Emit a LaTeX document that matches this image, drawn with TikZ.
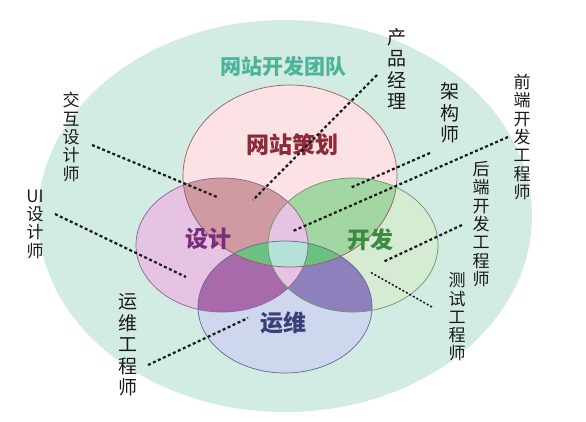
\documentclass[tikz,border=0pt]{standalone}
\usepackage{fontspec}
\newfontfamily\cjk{Noto Sans CJK SC}
\definecolor{bgc}{HTML}{D3ECE3}
\definecolor{cP}{HTML}{FCE1E5}
\definecolor{cD}{HTML}{E6C3E3}
\definecolor{cK}{HTML}{D5ECD3}
\definecolor{cY}{HTML}{CFD7EE}
\definecolor{cPD}{HTML}{D09AA2}
\definecolor{cPK}{HTML}{A2D6A3}
\definecolor{cDY}{HTML}{A96AAB}
\definecolor{cKY}{HTML}{8E80BD}
\definecolor{cDK}{HTML}{E6C3E3}
\definecolor{cPY}{HTML}{6CC080}
\definecolor{cAll}{HTML}{B5E2D8}
\definecolor{sP}{HTML}{9A5A62}
\definecolor{sD}{HTML}{86668C}
\definecolor{sK}{HTML}{68966A}
\definecolor{sY}{HTML}{5E6A92}
\definecolor{tTeam}{HTML}{4DB399}
\definecolor{tP}{HTML}{8B2A3A}
\definecolor{tD}{HTML}{7A2D7A}
\definecolor{tK}{HTML}{3E8A45}
\definecolor{tY}{HTML}{3A3F7A}
\newcommand\ellTop{(290,176) ellipse [x radius=107pt, y radius=91pt]}
\newcommand\ellLeft{(222,245) ellipse [x radius=86pt, y radius=67pt]}
\newcommand\ellRight{(353,245) ellipse [x radius=85pt, y radius=67pt]}
\newcommand\ellBot{(285,307) ellipse [x radius=87pt, y radius=66pt]}
\tikzset{
  vlabel/.style={font=\cjk\fontsize{17}{18.3}\selectfont, align=center, inner sep=0pt, text=black!90},
  vlabelbig/.style={font=\cjk\fontsize{19}{21.5}\selectfont, align=center, inner sep=0pt, text=black!90},
  setlabel/.style={font=\cjk\bfseries\fontsize{23}{23}\selectfont, inner sep=0pt},
  dotline/.style={line width=2.2pt, dash pattern=on 3pt off 2.5pt, black!90},
  fineline/.style={line width=1.5pt, dash pattern=on 2pt off 2pt, black!90},
  outl/.style={line width=0.7pt}
}
\begin{document}
\begin{tikzpicture}[x=1pt,y=-1pt]
\useasboundingbox (0,0) rectangle (586,421);
\fill[white] (0,0) rectangle (586,421);
\fill[bgc] (285,216) ellipse [x radius=247pt, y radius=196pt];
% base fills
\fill[cP] \ellTop;
\fill[cD] \ellLeft;
\fill[cK] \ellRight;
\fill[cY] \ellBot;
% pairwise
\begin{scope}\clip \ellLeft; \fill[cDY] \ellBot; \end{scope}
\begin{scope}\clip \ellRight; \fill[cKY] \ellBot; \end{scope}
\begin{scope}\clip \ellTop; \fill[cPD] \ellLeft; \end{scope}
\begin{scope}\clip \ellTop; \fill[cPK] \ellRight; \end{scope}
\begin{scope}\clip \ellLeft; \fill[cDK] \ellRight; \end{scope}
\begin{scope}\clip \ellTop; \fill[cPY] \ellBot; \end{scope}
\begin{scope}\clip \ellTop; \clip \ellBot; \clip \ellLeft; \fill[cAll] \ellRight; \end{scope}
% outlines
\draw[outl, sP] \ellTop;
\draw[outl, sD] \ellLeft;
\draw[outl, sK] \ellRight;
\draw[outl, sY] \ellBot;
% titles
\node[font=\cjk\bfseries\fontsize{21}{21}\selectfont, text=tTeam, inner sep=0pt] (team) at (283,66) {网站开发团队};
\node[setlabel, text=tP] (plan) at (292,145) {网站策划};
\node[setlabel, text=tD] (design) at (208,239) {设计};
\node[setlabel, text=tK] (dev) at (370,240) {开发};
\node[setlabel, text=tY] (ops) at (283,323) {运维};
% role labels
\node[vlabelbig] (pm) at (397,69) {产\\品\\经\\理};
\node[vlabelbig] (arch) at (450,113) {架\\构\\师};
\node[vlabel] (fe) at (522,137) {前\\端\\开\\发\\工\\程\\师};
\node[vlabel] (be) at (481,224) {后\\端\\开\\发\\工\\程\\师};
\node[vlabel] (qa) at (457,317) {测\\试\\工\\程\\师};
\node[vlabel] (ixd) at (71,137) {交\\互\\设\\计\\师};
\node[vlabel] (ui) at (35,224) {UI\\设\\计\\师};
\node[vlabelbig] (opsEng) at (128,345) {运\\维\\工\\程\\师};
% connector end points
\coordinate (ixdA) at (92,145);  \coordinate (ixdB) at (217,197);
\coordinate (pmA) at (377,75);   \coordinate (pmB) at (253,200);
\coordinate (archA) at (430,153); \coordinate (archB) at (350,188);
\coordinate (feA) at (508,137);  \coordinate (feB) at (293,231);
\coordinate (uiA) at (55,214);   \coordinate (uiB) at (186,277);
\coordinate (beA) at (462,225);  \coordinate (beB) at (383,262);
\coordinate (qaA) at (432,307);  \coordinate (qaB) at (370,272);
\coordinate (opsA) at (148,365); \coordinate (opsB) at (248,318);
\draw[dotline] (ixdA) -- (ixdB);
\draw[dotline] (pmA) -- (pmB);
\draw[dotline] (archA) -- (archB);
\draw[dotline] (feA) -- (feB);
\draw[dotline] (uiA) -- (uiB);
\draw[dotline] (beA) -- (beB);
\draw[fineline] (qaA) -- (qaB);
\draw[dotline] (opsA) -- (opsB);
\end{tikzpicture}
\end{document}
